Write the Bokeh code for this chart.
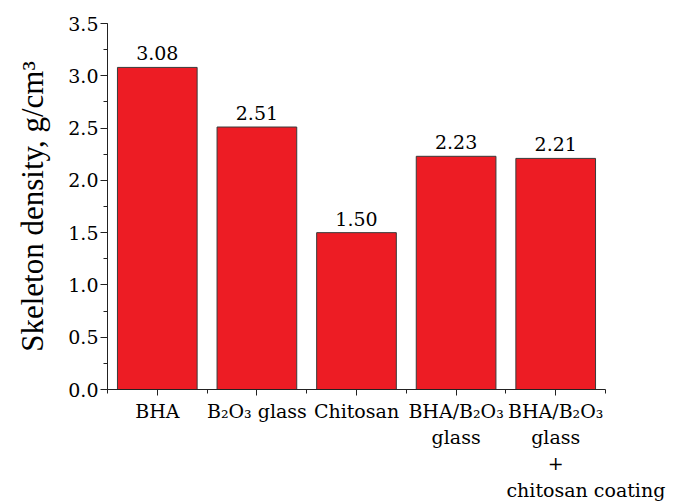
from bokeh.plotting import figure
from bokeh.models import ColumnDataSource, FixedTicker, Range1d
from bokeh.core.properties import value
from bokeh.embed import file_html
from bokeh.resources import INLINE

categories = ["BHA", "B\u2082O\u2083 glass", "Chitosan", "BHA/B\u2082O\u2083\nglass",
              "BHA/B\u2082O\u2083\nglass\n+\n\u00a0\u00a0\u00a0\u00a0\u00a0\u00a0\u00a0\u00a0\u00a0\u00a0chitosan coating"]
densities = [3.08, 2.51, 1.50, 2.23, 2.21]
value_labels = ["3.08", "2.51", "1.50", "2.23", "2.21"]
y_ticks = [0.0, 0.5, 1.0, 1.5, 2.0, 2.5, 3.0, 3.5]

positions = [i + 0.5 for i in range(len(categories))]
src = ColumnDataSource(dict(x=positions, y=densities, lab=value_labels))

p = figure(width=680, height=504, output_backend="svg", toolbar_location=None,
           x_range=Range1d(0, len(categories)), y_range=Range1d(0, 3.5),
           min_border_left=107, min_border_right=75, min_border_top=23, min_border_bottom=115)
p.outline_line_color = None
p.grid.visible = False
p.background_fill_color = "white"

p.vbar(x="x", top="y", width=0.8, bottom=0, source=src,
       fill_color="#ED1C24", line_color="#3a3a3a", line_width=1)
p.text(x="x", y="y", text="lab", source=src, y_offset=-7,
       text_align="center", text_baseline="bottom",
       text_font=value("DejaVu Serif"), text_font_size="19px", text_color="black")

# x axis
p.xaxis.ticker = FixedTicker(ticks=positions, minor_ticks=[float(i) for i in range(len(categories) + 1)])
p.xaxis.major_label_overrides = {pos: c for pos, c in zip(positions, categories)}
p.xaxis.major_label_text_font = "DejaVu Serif"
p.xaxis.major_label_text_font_size = "19px"
p.xaxis.major_label_text_color = "black"
p.xaxis.major_label_text_line_height = 1.2
p.xaxis.major_label_standoff = 4
p.xaxis.major_tick_out = 6
p.xaxis.major_tick_in = 0
p.xaxis.minor_tick_out = 4
p.xaxis.minor_tick_in = 0
p.xaxis.axis_line_color = "#222222"
p.xaxis.major_tick_line_color = "#222222"
p.xaxis.minor_tick_line_color = "#222222"

# y axis
p.yaxis.ticker = FixedTicker(ticks=y_ticks, minor_ticks=[i * 0.25 for i in range(15)])
p.yaxis.major_label_overrides = {t: f"{t:.1f}" for t in y_ticks}
p.yaxis.major_label_text_font = "DejaVu Serif"
p.yaxis.major_label_text_font_size = "19px"
p.yaxis.major_label_text_color = "black"
p.yaxis.major_label_standoff = 2
p.yaxis.major_tick_out = 7
p.yaxis.major_tick_in = 0
p.yaxis.minor_tick_out = 4
p.yaxis.minor_tick_in = 0
p.yaxis.axis_line_color = "#222222"
p.yaxis.major_tick_line_color = "#222222"
p.yaxis.minor_tick_line_color = "#222222"
p.yaxis.axis_label = "Skeleton density, g/cm\u00b3"
p.yaxis.axis_label_text_font = "Liberation Serif"
p.yaxis.axis_label_text_font_size = "31px"
p.yaxis.axis_label_text_font_style = "normal"
p.yaxis.axis_label_text_color = "black"
p.yaxis.axis_label_standoff = 15

open("out.html", "w").write(file_html(p, INLINE))
